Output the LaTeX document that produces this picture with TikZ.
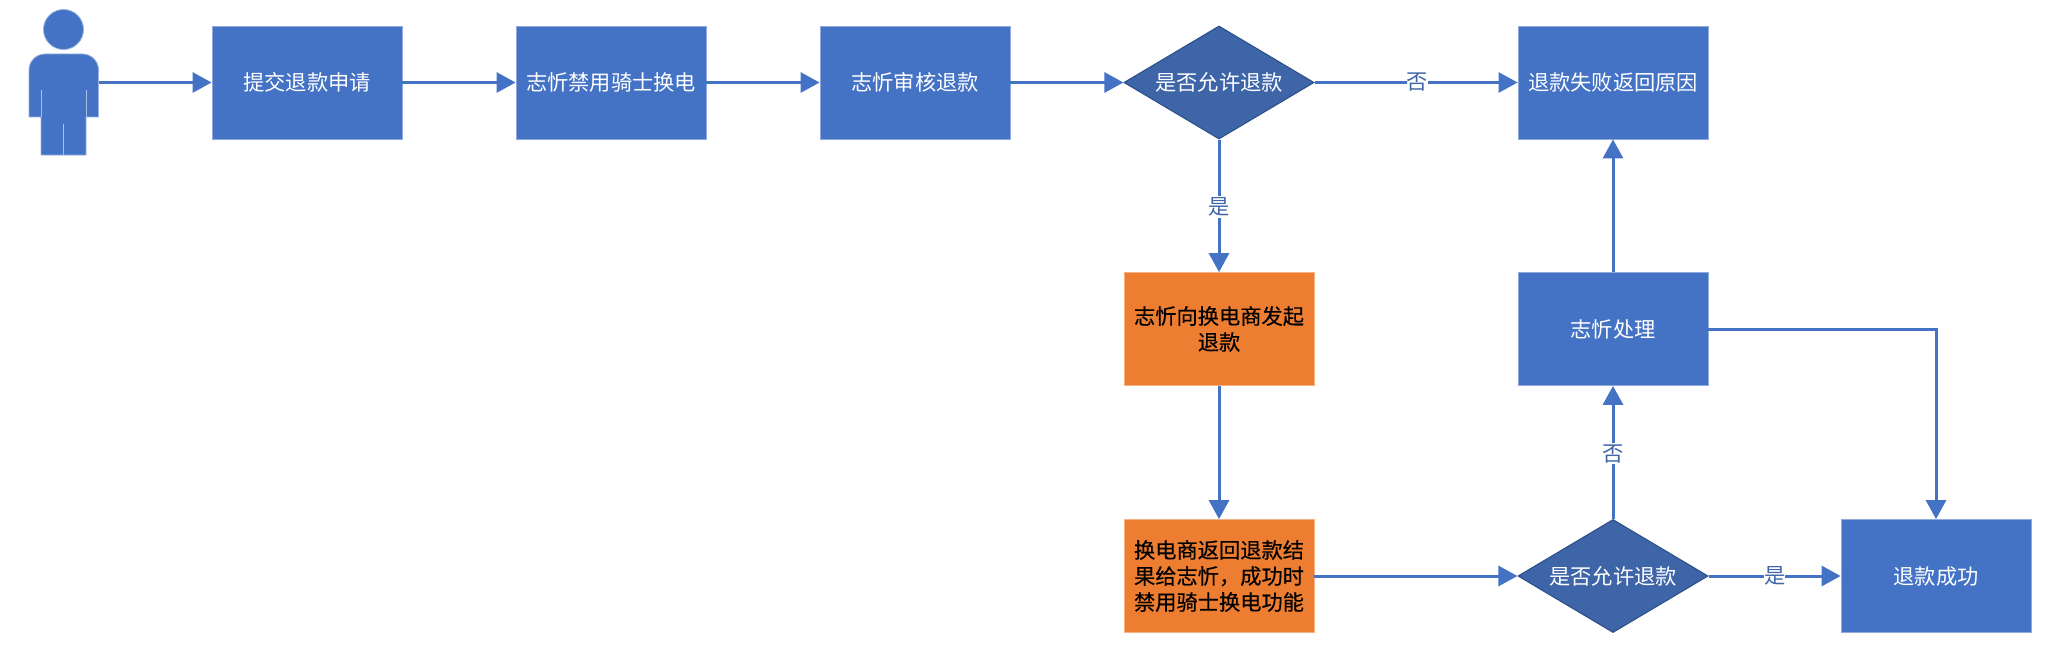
\documentclass[tikz,border=0pt]{standalone}
\usepackage{fontspec}
\setmainfont{Noto Sans CJK SC}
\newfontfamily\heavycjk[FakeBold=0.3]{Noto Sans CJK SC}
\usetikzlibrary{arrows.meta,shapes.geometric}
\definecolor{bluefill}{HTML}{4472C4}
\definecolor{bluedark}{HTML}{3F65A9}
\definecolor{bluerim}{HTML}{2F528F}
\definecolor{orangefill}{HTML}{ED7D31}
\tikzset{
 x=1pt,y=-1pt,
 txt/.style={font=\fontsize{21.25}{26}\selectfont,align=center,inner sep=0pt},
 bluebox/.style={txt,rectangle,fill=bluefill,draw=bluefill!60!white,line width=0.8pt,minimum width=190pt,minimum height=113pt,text=white,text width=186pt},
 orangebox/.style={txt,rectangle,fill=orangefill,draw=orangefill!60!white,line width=0.8pt,minimum width=190pt,minimum height=113pt,text=black,text width=176pt,font=\fontsize{21.25}{26}\selectfont\heavycjk},
 decision/.style={txt,diamond,aspect=1.667,fill=bluedark,draw=bluerim,line width=1.2pt,minimum width=190pt,minimum height=113pt,text=white,inner sep=0pt},
 conn/.style={draw=bluefill,line width=3pt,-{Triangle[length=19pt,width=20pt]}},
 lab/.style={font=\fontsize{21.25}{26}\selectfont,fill=white,text=bluedark,inner xsep=0pt,inner ysep=1.5pt},
 fig/.style={fill=bluefill,draw=bluefill!55!white,line width=0.8pt},
 seam/.style={draw=bluefill!45!white,line width=0.8pt}
}
\begin{document}
\begin{tikzpicture}
\useasboundingbox (0,0) rectangle (2058,666);
\fill[white] (0,0) rectangle (2058,666);
% person
\draw[fig] (63.5,29.5) circle (20);
\draw[fig] (41,117) -- (29,117) -- (29,70) arc[start angle=180,end angle=90,x radius=16,y radius=-16] -- (82.5,54) arc[start angle=90,end angle=0,x radius=16,y radius=-16] -- (98.5,117) -- (86,117) -- (86,155) -- (41,155) -- cycle;
\draw[seam] (41,90) -- (41,117) (86,90) -- (86,117) (63.5,124) -- (63.5,155);
\coordinate (person) at (98.5,82.5);
% nodes
\node[bluebox] (submit) at (307,82.5) {提交退款申请};
\node[bluebox] (ban) at (611,82.5) {志忻禁用骑士换电};
\node[bluebox] (audit) at (915,82.5) {志忻审核退款};
\node[decision] (allow) at (1219,82.5) {是否允许退款};
\node[bluebox] (fail) at (1613,82.5) {退款失败返回原因};
\node[orangebox] (initiate) at (1219,329) {志忻向换电商发起\\退款};
\node[bluebox] (handle) at (1613,329) {志忻处理};
\node[orangebox] (result) at (1219,576) {换电商返回退款结\\果给志忻，成功时\\禁用骑士换电功能};
\node[decision] (allow2) at (1613,576) {是否允许退款};
\node[bluebox] (ok) at (1936,576) {退款成功};
% connectors
\draw[conn] (person) -- (submit);
\draw[conn] (submit) -- (ban);
\draw[conn] (ban) -- (audit);
\draw[conn] (audit) -- (allow);
\draw[conn] (allow) -- node[lab,pos=0.505]{否} (fail);
\draw[conn] (allow) -- node[lab,pos=0.51]{是} (initiate);
\draw[conn] (initiate) -- (result);
\draw[conn] (result) -- (allow2);
\draw[conn] (allow2) -- node[lab,pos=0.5]{是} (ok);
\draw[conn] (allow2) -- node[lab,pos=0.49]{否} (handle);
\draw[conn] (handle) -- (fail);
\draw[conn] (handle) -| (ok);
\end{tikzpicture}
\end{document}
